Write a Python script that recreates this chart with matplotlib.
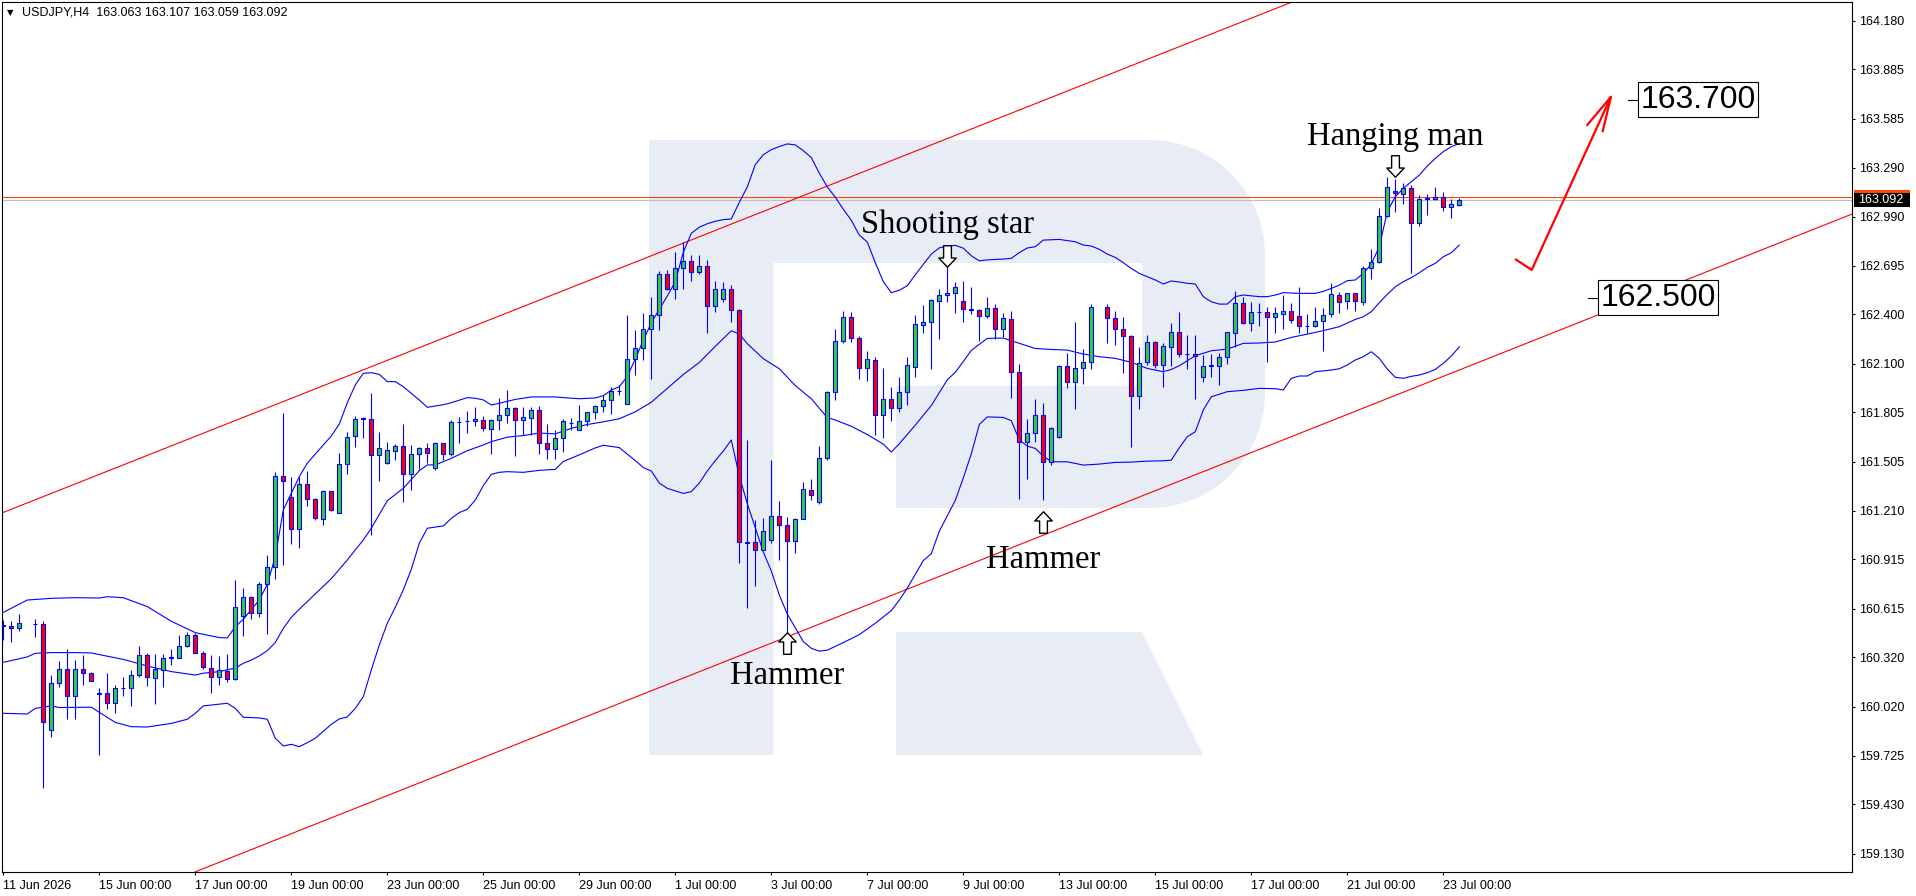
import numpy as np
import matplotlib

matplotlib.use("Agg")
import matplotlib.pyplot as plt
from matplotlib.path import Path
from matplotlib.patches import Polygon, Rectangle
from matplotlib.transforms import blended_transform_factory

nan = float("nan")

# ---------------------------------------------------------------- data
# H4 candles, one per bar (bar 0 = 11 Jun 2026 00:00); nan = bar not drawn
opens = [160.513, 160.511, 160.497, nan, 160.522, 160.521, 159.881, 160.164, 160.249, 160.087,
         160.249, 160.224, 160.103, 160.103, 160.043, 160.132, 160.134, 160.212, 160.333, 160.194,
         160.245, 160.317, 160.315, 160.388, 160.457, 160.346, 160.255, 160.200, 160.239, 160.188,
         160.572, 160.689, 160.588, 160.764, 160.867, 161.420, 161.291, 161.097, 161.370, 161.279,
         161.158, 161.329, 161.198, 161.491, 161.663, 161.770, 161.764, 161.547, 161.501, 161.572,
         161.600, 161.432, 161.553, 161.588, 161.471, 161.618, 161.553, 161.747, 161.752, 161.754,
         161.758, 161.705, 161.757, 161.788, 161.830, 161.757, 161.774, 161.822, 161.617, 161.586,
         161.648, 161.742, 161.700, 161.753, 161.805, 161.847, 161.882, 161.936, 161.857, 162.128,
         162.197, 162.310, 162.394, 162.644, 162.552, 162.678, 162.724, 162.657, 162.690, 162.448,
         162.490, 162.556, 162.425, 161.018, 161.018, 160.974, 161.032, 161.178, 161.120, 161.028,
         161.162, 161.335, 161.262, 161.527, 161.930, 162.239, 162.385, 162.254, 162.076, 162.122,
         161.788, 161.888, 161.830, 161.926, 162.080, 162.337, 162.354, 162.479, 162.515, 162.527,
         162.479, 162.435, 162.425, 162.390, 162.436, 162.309, 162.369, 162.048, 161.628, 161.678,
         161.789, 161.506, 161.654, 162.086, 161.991, 162.072, 162.109, nan, 162.442, 162.375,
         162.309, 162.268, 161.905, 162.109, 162.230, 162.092, 162.200, 162.291, 162.161, 162.157,
         162.018, 162.088, 162.088, 162.139, 162.284, 162.466, 162.345, 162.412, 162.412, 162.381,
         162.400, 162.422, 162.392, 162.329, 162.331, 162.361, 162.400, 162.517, 162.480, 162.527,
         162.476, 162.678, 162.715, 162.998, 163.147, 163.129, 163.163, 162.951, 163.101, 163.099,
         163.113, 163.048, 163.063]
highs = [160.547, 160.541, 160.584, nan, 160.551, 160.541, 160.214, 160.299, 160.370, 160.305,
         160.336, 160.234, 160.134, 160.228, 160.154, 160.204, 160.241, 160.390, 160.346, 160.342,
         160.342, 160.370, 160.457, 160.477, 160.467, 160.356, 160.336, 160.329, 160.342, 160.790,
         160.740, 160.693, 160.780, 160.942, 161.446, 161.804, 161.416, 161.416, 161.450, 161.285,
         161.335, 161.329, 161.562, 161.689, 161.784, 161.776, 161.925, 161.689, 161.628, 161.612,
         161.735, 161.608, 161.598, 161.618, 161.628, 161.622, 161.760, 161.776, 161.816, 161.836,
         161.784, 161.764, 161.893, 161.941, 161.836, 161.836, 161.840, 161.847, 161.738, 161.696,
         161.763, 161.774, 161.853, 161.809, 161.851, 161.909, 161.961, 161.972, 162.396, 162.306,
         162.410, 162.504, 162.665, 162.671, 162.776, 162.838, 162.761, 162.761, 162.730, 162.604,
         162.594, 162.577, 162.431, 161.638, 161.153, 161.164, 161.517, 161.268, 161.174, 161.168,
         161.383, 161.404, 161.600, 161.936, 162.310, 162.421, 162.417, 162.268, 162.176, 162.143,
         162.076, 161.961, 162.018, 162.139, 162.394, 162.456, 162.494, 162.552, 162.692, 162.598,
         162.602, 162.567, 162.431, 162.503, 162.462, 162.406, 162.420, 162.096, 161.763, 161.884,
         161.860, 161.719, 162.092, 162.163, 162.355, 162.187, 162.462, nan, 162.462, 162.422,
         162.381, 162.274, 162.200, 162.274, 162.240, 162.224, 162.349, 162.416, 162.274, 162.274,
         162.153, 162.159, 162.167, 162.295, 162.541, 162.503, 162.472, 162.470, 162.446, 162.442,
         162.517, 162.470, 162.563, 162.402, 162.446, 162.436, 162.592, 162.537, 162.531, 162.531,
         162.693, 162.794, 163.042, 163.230, 163.218, 163.194, 163.184, 163.123, 163.129, 163.170,
         163.139, 163.097, 163.107]
lows = [160.426, 160.416, 160.483, nan, 160.446, 159.527, 159.840, 160.143, 159.946, 159.946,
        160.154, 160.174, 159.730, 160.006, 159.982, 160.083, 160.026, 160.204, 160.148, 160.039,
        160.140, 160.275, 160.315, 160.386, 160.346, 160.249, 160.107, 160.154, 160.168, 160.180,
        160.447, 160.552, 160.564, 160.461, 160.794, 160.881, 161.006, 160.982, 161.238, 161.154,
        161.121, 161.208, 161.194, 161.430, 161.598, 161.648, 161.063, 161.392, 161.491, 161.517,
        161.265, 161.333, 161.460, 161.501, 161.457, 161.517, 161.541, 161.618, 161.679, 161.725,
        161.693, 161.551, 161.700, 161.742, 161.544, 161.669, 161.669, 161.554, 161.523, 161.523,
        161.565, 161.700, 161.696, 161.721, 161.763, 161.805, 161.795, 161.909, 161.857, 162.034,
        162.122, 162.009, 162.306, 162.546, 162.490, 162.556, 162.602, 162.644, 162.285, 162.417,
        162.473, 162.354, 160.890, 160.621, 160.750, 160.970, 161.011, 160.911, 160.469, 160.953,
        161.158, 161.272, 161.252, 161.519, 161.878, 162.227, 162.233, 162.009, 161.993, 161.669,
        161.648, 161.753, 161.805, 161.853, 162.018, 162.285, 162.066, 162.248, 162.473, 162.410,
        162.352, 162.400, 162.239, 162.375, 162.248, 162.260, 161.890, 161.280, 161.399, 161.628,
        161.274, 161.486, 161.648, 161.951, 161.824, 161.977, 162.066, nan, 162.228, 162.214,
        162.046, 161.597, 161.824, 162.092, 162.076, 161.957, 162.086, 162.139, 162.066, 161.884,
        161.991, 162.022, 161.971, 162.099, 162.204, 162.341, 162.301, 162.329, 162.113, 162.288,
        162.309, 162.349, 162.288, 162.288, 162.325, 162.179, 162.381, 162.410, 162.432, 162.422,
        162.456, 162.612, 162.709, 162.992, 163.022, 163.068, 162.652, 162.935, 163.002, 163.093,
        163.026, 162.986, 163.059]
closes = [160.515, 160.499, 160.527, nan, 160.524, 159.927, 160.164, 160.249, 160.087, 160.249,
          160.224, 160.178, 160.099, 160.043, 160.134, 160.134, 160.212, 160.333, 160.200, 160.249,
          160.315, 160.321, 160.388, 160.457, 160.346, 160.259, 160.200, 160.241, 160.188, 160.624,
          160.689, 160.588, 160.764, 160.867, 161.420, 161.390, 161.097, 161.370, 161.279, 161.164,
          161.329, 161.214, 161.491, 161.659, 161.764, 161.766, 161.547, 161.588, 161.576, 161.600,
          161.432, 161.551, 161.590, 161.558, 161.618, 161.553, 161.745, 161.749, 161.754, 161.764,
          161.709, 161.760, 161.788, 161.830, 161.757, 161.778, 161.822, 161.617, 161.586, 161.648,
          161.753, 161.744, 161.753, 161.805, 161.847, 161.878, 161.936, 161.938, 162.128, 162.197,
          162.310, 162.394, 162.644, 162.556, 162.678, 162.724, 162.657, 162.690, 162.448, 162.556,
          162.556, 162.425, 161.018, 161.016, 160.974, 161.085, 161.178, 161.120, 161.028, 161.162,
          161.339, 161.304, 161.527, 161.930, 162.239, 162.385, 162.254, 162.076, 162.128, 161.788,
          161.888, 161.830, 161.926, 162.091, 162.344, 162.354, 162.488, 162.515, 162.527, 162.563,
          162.435, 162.425, 162.389, 162.436, 162.309, 162.375, 162.048, 161.628, 161.678, 161.789,
          161.506, 161.708, 162.086, 161.991, 162.072, 162.109, 162.446, nan, 162.375, 162.309,
          162.268, 161.905, 162.103, 162.234, 162.092, 162.208, 162.291, 162.159, 162.157, 162.149,
          162.088, 162.090, 162.139, 162.291, 162.466, 162.345, 162.412, 162.414, 162.381, 162.406,
          162.422, 162.365, 162.329, 162.331, 162.361, 162.396, 162.521, 162.476, 162.527, 162.480,
          162.678, 162.715, 162.998, 163.174, 163.133, 163.163, 162.951, 163.097, 163.103, 163.113,
          163.048, 163.066, 163.092]

# Bollinger bands, read at selected bars
bb_upper_bar = [0, 3, 6, 9, 12, 13, 15, 18, 21, 24, 27, 28, 29, 30, 32, 33, 34, 35, 36, 37, 38, 40, 41,
                42, 43, 44, 45, 46, 47, 48, 49, 50, 52, 53, 55, 56, 58, 59, 60, 61, 62, 64, 66, 69, 72,
                74, 75, 76, 77, 78, 79, 80, 81, 82, 83, 84, 85, 86, 87, 88, 89, 90, 91, 92, 93, 94, 95,
                96, 97, 98, 99, 100, 101, 102, 103, 104, 105, 106, 107, 108, 109, 110, 111, 112, 113,
                114, 115, 116, 117, 118, 119, 120, 121, 122, 123, 125, 126, 127, 128, 129, 130, 132,
                134, 135, 136, 137, 138, 139, 140, 141, 142, 143, 144, 145, 146, 147, 148, 149, 150,
                151, 152, 153, 154, 155, 157, 158, 159, 160, 162, 164, 165, 166, 167, 168, 169, 170,
                171, 172, 173, 174, 175, 176, 177, 178, 179, 180, 181, 182]
bb_upper = [160.593, 160.668, 160.678, 160.682, 160.680, 160.688, 160.682, 160.628, 160.539, 160.470,
            160.440, 160.438, 160.506, 160.551, 160.668, 160.763, 160.931, 161.214, 161.315, 161.416,
            161.497, 161.608, 161.662, 161.735, 161.864, 161.972, 162.042, 162.046, 162.036, 161.992,
            161.992, 161.961, 161.881, 161.836, 161.852, 161.864, 161.895, 161.891, 161.881, 161.850,
            161.861, 161.884, 161.899, 161.899, 161.888, 161.893, 161.907, 161.941, 161.961, 162.024,
            162.129, 162.243, 162.348, 162.431, 162.511, 162.598, 162.776, 162.891, 162.928, 162.949,
            162.964, 162.974, 162.978, 163.079, 163.172, 163.308, 163.367, 163.398, 163.417, 163.433,
            163.427, 163.392, 163.350, 163.256, 163.172, 163.110, 163.037, 162.970, 162.880, 162.838,
            162.713, 162.598, 162.531, 162.546, 162.573, 162.640, 162.703, 162.765, 162.803, 162.813,
            162.818, 162.801, 162.755, 162.724, 162.730, 162.735, 162.739, 162.774, 162.802, 162.810,
            162.850, 162.854, 162.840, 162.820, 162.814, 162.794, 162.765, 162.745, 162.713, 162.678,
            162.648, 162.628, 162.608, 162.584, 162.602, 162.596, 162.588, 162.584, 162.507, 162.476,
            162.462, 162.462, 162.507, 162.517, 162.507, 162.507, 162.517, 162.531, 162.527, 162.527,
            162.539, 162.557, 162.577, 162.604, 162.608, 162.648, 162.705, 162.810, 163.022, 163.113,
            163.163, 163.204, 163.244, 163.299, 163.345, 163.386, 163.416, 163.436]

bb_mid_bar = [0, 3, 4, 6, 9, 11, 12, 15, 18, 21, 24, 25, 27, 29, 30, 31, 32, 33, 34, 35, 36, 37, 39, 41,
              43, 45, 46, 48, 50, 52, 53, 54, 56, 58, 60, 61, 63, 65, 67, 69, 71, 73, 75, 77, 79, 81,
              83, 85, 87, 89, 91, 92, 93, 95, 97, 99, 101, 103, 104, 106, 108, 110, 111, 112, 114, 116,
              118, 119, 120, 121, 122, 123, 125, 127, 129, 131, 133, 135, 137, 139, 141, 143, 145, 146,
              147, 149, 151, 153, 155, 157, 159, 161, 163, 165, 167, 169, 170, 171, 172, 173, 174, 175,
              176, 177, 178, 179, 180, 181, 182]
bb_mid = [160.290, 160.323, 160.345, 160.349, 160.349, 160.347, 160.337, 160.308, 160.268, 160.234,
          160.213, 160.224, 160.234, 160.256, 160.284, 160.304, 160.329, 160.361, 160.410, 160.496,
          160.563, 160.612, 160.705, 160.797, 160.911, 161.032, 161.103, 161.270, 161.345, 161.452,
          161.487, 161.487, 161.527, 161.573, 161.608, 161.628, 161.655, 161.665, 161.680, 161.675,
          161.709, 161.732, 161.748, 161.767, 161.809, 161.867, 161.951, 162.035, 162.108, 162.206,
          162.300, 162.281, 162.222, 162.131, 162.070, 161.968, 161.888, 161.774, 161.759, 161.721,
          161.671, 161.613, 161.565, 161.615, 161.728, 161.847, 162.003, 162.049, 162.114, 162.181,
          162.218, 162.254, 162.256, 162.224, 162.193, 162.187, 162.183, 162.159, 162.143, 162.133,
          162.109, 162.072, 162.052, 162.066, 162.088, 162.149, 162.179, 162.189, 162.224, 162.226,
          162.232, 162.260, 162.280, 162.301, 162.325, 162.369, 162.385, 162.416, 162.470, 162.521,
          162.567, 162.598, 162.622, 162.652, 162.685, 162.709, 162.749, 162.773, 162.820]

bb_lower_bar = [0, 3, 4, 6, 7, 11, 12, 14, 16, 18, 21, 23, 24, 25, 28, 29, 30, 32, 33, 34, 35, 36, 37,
                38, 39, 41, 42, 43, 44, 45, 46, 47, 48, 49, 50, 51, 52, 53, 55, 56, 57, 58, 59, 60, 61,
                62, 63, 65, 67, 69, 70, 72, 74, 75, 77, 79, 80, 81, 82, 83, 85, 86, 87, 88, 89, 90, 91,
                92, 93, 94, 95, 96, 97, 98, 99, 100, 101, 102, 103, 105, 107, 109, 111, 112, 113, 114,
                115, 116, 117, 118, 119, 120, 121, 122, 123, 125, 126, 127, 128, 129, 130, 131, 133,
                135, 137, 139, 141, 143, 145, 146, 147, 148, 149, 150, 151, 153, 155, 157, 159, 160,
                161, 162, 163, 164, 166, 167, 168, 169, 170, 171, 172, 173, 174, 175, 176, 177, 178,
                179, 180, 181, 182]
bb_lower = [159.981, 159.977, 160.011, 160.026, 160.016, 160.018, 159.987, 159.926, 159.900, 159.898,
            159.920, 159.945, 159.981, 160.026, 160.042, 160.011, 159.957, 159.953, 159.945, 159.830,
            159.783, 159.793, 159.779, 159.803, 159.830, 159.914, 159.947, 159.959, 160.011, 160.082,
            160.244, 160.395, 160.527, 160.624, 160.729, 160.854, 161.012, 161.103, 161.117, 161.163,
            161.198, 161.218, 161.274, 161.361, 161.430, 161.442, 161.446, 161.442, 161.454, 161.460,
            161.508, 161.548, 161.590, 161.606, 161.592, 161.513, 161.471, 161.450, 161.377, 161.345,
            161.314, 161.325, 161.377, 161.450, 161.513, 161.571, 161.638, 161.419, 161.252, 161.105,
            160.959, 160.844, 160.698, 160.583, 160.500, 160.416, 160.375, 160.358, 160.364, 160.410,
            160.458, 160.527, 160.604, 160.667, 160.740, 160.824, 160.907, 160.949, 161.085, 161.178,
            161.272, 161.408, 161.554, 161.732, 161.778, 161.775, 161.755, 161.638, 161.601, 161.587,
            161.541, 161.506, 161.506, 161.486, 161.492, 161.502, 161.504, 161.510, 161.512, 161.516,
            161.591, 161.658, 161.688, 161.820, 161.900, 161.931, 161.939, 161.951, 161.949, 161.941,
            162.012, 162.026, 162.026, 162.052, 162.062, 162.070, 162.093, 162.123, 162.143, 162.173,
            162.133, 162.068, 162.018, 162.012, 162.024, 162.032, 162.046, 162.066, 162.103, 162.147,
            162.203]

# price axis labels and date labels (one every 12 bars)
price_ticks = ["164.180", "163.885", "163.585", "163.290", "162.990", "162.695", "162.400",
               "162.100", "161.805", "161.505", "161.210", "160.915", "160.615", "160.320",
               "160.020", "159.725", "159.430", "159.130"]
date_labels = ["11 Jun 2026", "15 Jun 00:00", "17 Jun 00:00", "19 Jun 00:00", "23 Jun 00:00",
               "25 Jun 00:00", "29 Jun 00:00", "1 Jul 00:00", "3 Jul 00:00", "7 Jul 00:00",
               "9 Jul 00:00", "13 Jul 00:00", "15 Jul 00:00", "17 Jul 00:00", "21 Jul 00:00",
               "23 Jul 00:00"]
date_step = 12

# channel lines, two anchor points each (bar, price)
channel_upper = [(0, 161.199), (120, 163.504)]
channel_lower = [(24, 159.020), (180, 162.024)]
ask_price = 163.113

# pattern notes: text, bar, arrow price, arrow direction, text baseline price
note_text = ["Hanging man", "Shooting star", "Hammer", "Hammer"]
note_bar = [174, 118, 98, 130]
note_arrow_price = [163.302, 162.754, 160.410, 161.138]
note_arrow_dir = ["down", "down", "up", "up"]
note_text_price = [163.426, 162.891, 160.159, 160.864]

# target levels and the hand-drawn forecast arrow
target_levels = [163.700, 162.500]
target_bar = [204.65, 199.65]
forecast_bar = [189.05, 191.05, 200.96]
forecast_price = [162.733, 162.669, 163.719]
forecast_head_bar = [198.0, 200.96, 199.93]
forecast_head_price = [163.548, 163.719, 163.511]

# ---------------------------------------------------------------- figure
W, H, DPI = 1916, 896, 100
X0, X1, Y0, Y1 = 2, 1852, 2, 872      # plot frame in pixels
BAR_PX, BAR0_PX = 8.0, 3.3

plt.rcParams["font.family"] = ["Liberation Sans", "DejaVu Sans"]

fig = plt.figure(figsize=(W / DPI, H / DPI), dpi=DPI, facecolor="white")
ax = fig.add_axes([X0 / W, (H - Y1) / H, (X1 - X0) / W, (Y1 - Y0) / H])
ax.set_facecolor("white")

ax.set_xlim((X0 - BAR0_PX) / BAR_PX, (X1 - BAR0_PX) / BAR_PX)
ax.set_ylim(159.019, 164.2934)


def px(x, y):
    return ((x - X0) / (X1 - X0), (Y1 - y) / (Y1 - Y0))


# watermark logo
wm = "#e8edf5"
r = 115
t = np.linspace(0, np.pi / 2, 20)
outline = [(649, 140)]
outline += [(1150 + r * np.sin(a), 255 - r * np.cos(a)) for a in t]
outline += [(1150 + r * np.cos(a), 393 + r * np.sin(a)) for a in t]
outline += [(896, 508), (896, 386), (1142, 386), (1142, 263), (773.5, 263), (773.5, 755), (649, 755)]
ax.add_patch(Polygon([px(*p) for p in outline], closed=True, transform=ax.transAxes,
                     fc=wm, ec="none", zorder=0))
leg = [(896, 632), (1142, 632), (1203, 755), (896, 755)]
ax.add_patch(Polygon([px(*p) for p in leg], closed=True, transform=ax.transAxes,
                     fc=wm, ec="none", zorder=0))

# bid / ask lines
ax.axhline(ask_price, color="#ff4500", lw=0.8, zorder=1)
ax.axhline(closes[-1], color="#c0c0c0", lw=0.8, zorder=1)

# channel
for (p1, p2) in (channel_upper, channel_lower):
    ax.axline(p1, p2, color="red", lw=0.8, zorder=1)

# bands
ax.plot(bb_upper_bar, bb_upper, color="#0000ff", lw=0.8, zorder=2)
ax.plot(bb_mid_bar, bb_mid, color="#0000ff", lw=0.8, zorder=2)
ax.plot(bb_lower_bar, bb_lower, color="#0000ff", lw=0.8, zorder=2)

# candles
o = np.array(opens)
h = np.array(highs)
l = np.array(lows)
c = np.array(closes)
bars = np.arange(len(o))
ok = ~np.isnan(o)
ax.vlines(bars[ok], l[ok], h[ok], color="#0000ff", lw=0.8, zorder=3)
bottom = np.minimum(o, c)
height = np.abs(c - o)
colors = np.where(c >= o, "#32cd32", "#ff0000")
ax.bar(bars[ok], height[ok], bottom=bottom[ok], width=0.52, color=colors[ok],
       edgecolor="#0000ff", linewidth=0.8, zorder=4)

# pattern notes
up = [(0, 10.5), (8.5, 1.5), (3.8, 1.5), (3.8, -10.5), (-3.8, -10.5), (-3.8, 1.5), (-8.5, 1.5), (0, 0)]
up_arrow = Path(up, closed=True)
down_arrow = Path([(x, -y) for x, y in up], closed=True)
for txt, b, ap, d, tp in zip(note_text, note_bar, note_arrow_price, note_arrow_dir, note_text_price):
    ax.plot([b], [ap], marker=up_arrow if d == "up" else down_arrow, ms=15.5,
            mfc="white", mec="black", mew=1.0, ls="none", zorder=6)
    ax.text(b, tp, txt, ha="center", va="baseline", fontsize=23.5,
            family="Liberation Serif", color="black", zorder=6)

# target labels
for lvl, b in zip(target_levels, target_bar):
    ax.plot([b - 1.55, b - 0.3], [lvl, lvl], color="black", lw=0.8, zorder=6)
    ax.text(b, lvl, f"{lvl:.3f}", ha="left", va="center", fontsize=23, color="black", zorder=7,
            bbox=dict(boxstyle="square,pad=0.08", fc="white", ec="black", lw=0.8))

# forecast arrow
ax.plot(forecast_bar, forecast_price, color="red", lw=1.6, zorder=6, solid_capstyle="round")
ax.plot(forecast_head_bar, forecast_head_price, color="red", lw=1.6, zorder=6,
        solid_joinstyle="miter")

# axes styling
for s in ax.spines.values():
    s.set_color("black")
    s.set_linewidth(0.8)

ax.yaxis.tick_right()
ax.set_yticks([float(v) for v in price_ticks])
ax.set_yticklabels(price_ticks)
ax.tick_params(axis="y", direction="out", length=2.4, width=0.8, pad=3.0,
               labelsize=9, colors="black")

ax.set_xticks(np.arange(len(date_labels)) * date_step)
ax.set_xticklabels(date_labels)
ax.tick_params(axis="x", direction="out", length=2.4, width=0.8, pad=3.5,
               labelsize=9, colors="black")
for lbl in ax.get_xticklabels():
    lbl.set_ha("left")

# bid / ask price tags on the axis
tag = blended_transform_factory(ax.transAxes, ax.transData)
tag_w = 56 / (X1 - X0)
tag_h = 14 / 164.95
ax.add_patch(Rectangle((1 + 2 / (X1 - X0), ask_price - tag_h / 2), tag_w, tag_h,
                       transform=tag, fc="#ff4500", ec="none", clip_on=False, zorder=8))
ax.add_patch(Rectangle((1 + 2 / (X1 - X0), closes[-1] - tag_h / 2), tag_w, tag_h,
                       transform=tag, fc="black", ec="none", clip_on=False, zorder=9))
ax.text(1 + 6 / (X1 - X0), closes[-1], f"{closes[-1]:.3f}", transform=tag, ha="left",
        va="center", fontsize=9, color="white", zorder=10, clip_on=False)

# header
fig.text(7 / W, 1 - 13 / H, "\u25bc", fontsize=6, family="DejaVu Sans", va="center",
         ha="left", color="black")
fig.text(22 / W, 1 - 12.7 / H,
         f"USDJPY,H4  {opens[-1]:.3f} {highs[-1]:.3f} {lows[-1]:.3f} {closes[-1]:.3f}",
         fontsize=9, va="center", ha="left", color="black")

fig.savefig("out.png", dpi=DPI, facecolor="white")
